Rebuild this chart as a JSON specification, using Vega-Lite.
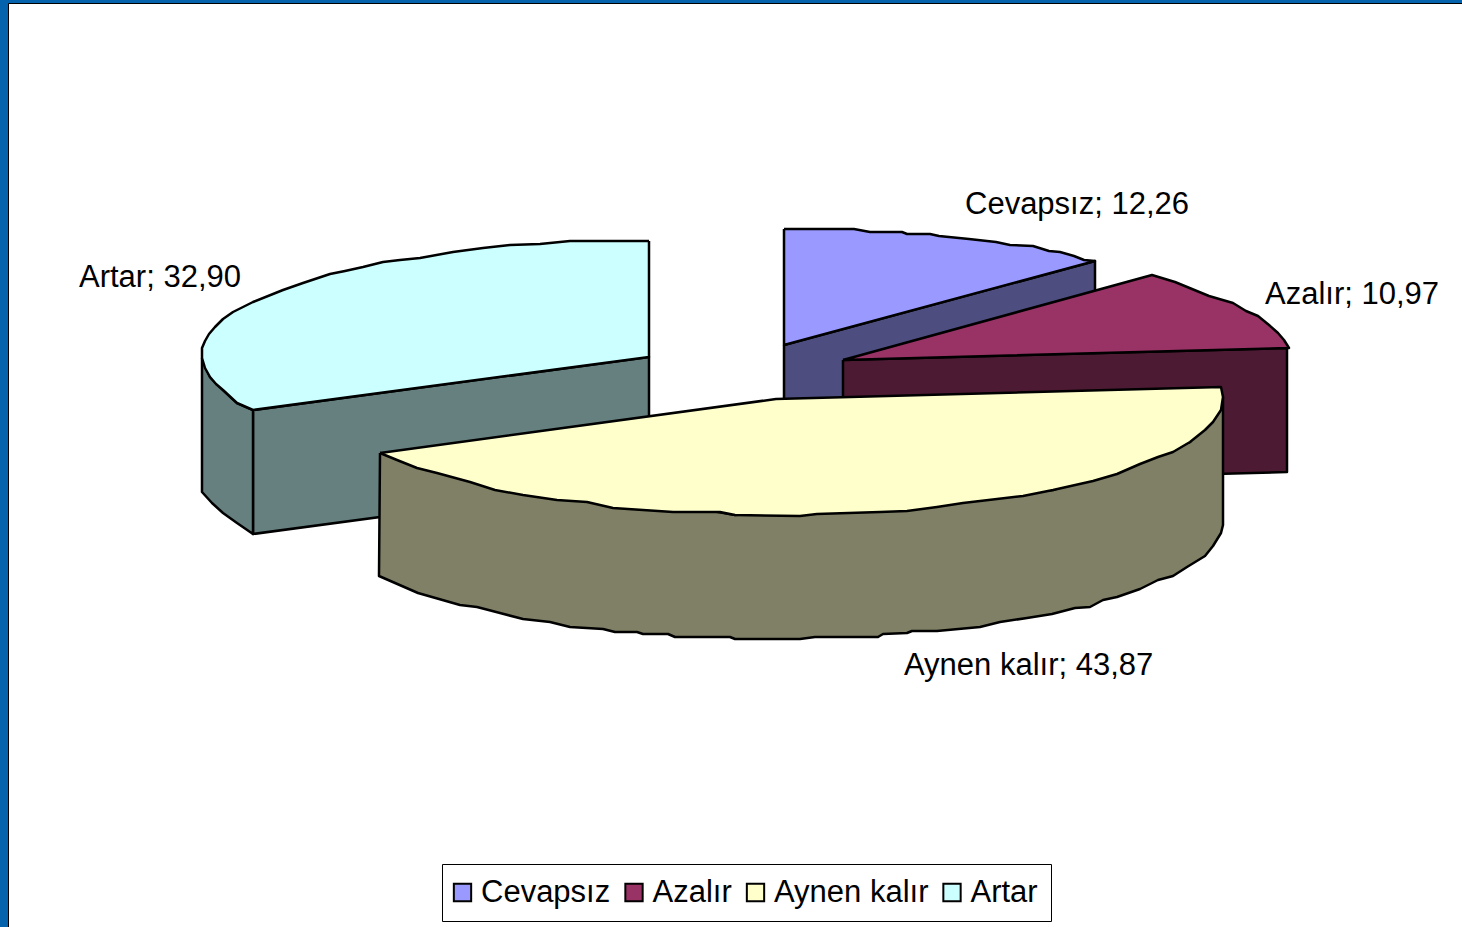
{"$schema":"https://vega.github.io/schema/vega-lite/v6.json","width":1462,"height":927,"autosize":{"type":"fit","contains":"padding"},"padding":{"left":8,"top":3,"right":0,"bottom":0},"background":"#0563AE","view":{"fill":"#ffffff","stroke":"#000000","strokeWidth":1},"config":{"font":"Liberation Sans"},
"datasets":{"labels":[{"slice":"Cevapsız","share":12.26,"label":"Cevapsız; 12,26","x":965,"y":214},{"slice":"Azalır","share":10.97,"label":"Azalır; 10,97","x":1265,"y":304},{"slice":"Aynen kalır","share":43.87,"label":"Aynen kalır; 43,87","x":904,"y":675},{"slice":"Artar","share":32.90,"label":"Artar; 32,90","x":79,"y":287}],
"faces":[
{"p":"a1","f":"Cevapsız yan","s":1,"x":784,"y":345},{"p":"a1","f":"Cevapsız yan","s":2,"x":1095,"y":261},{"p":"a1","f":"Cevapsız yan","s":3,"x":1095,"y":384},{"p":"a1","f":"Cevapsız yan","s":4,"x":784,"y":468},{"p":"a1","f":"Cevapsız yan","s":5,"x":784,"y":345},
{"p":"a2","f":"Cevapsız","s":1,"x":784,"y":229},{"p":"a2","f":"Cevapsız","s":2,"x":854,"y":229},{"p":"a2","f":"Cevapsız","s":3,"x":870,"y":232},{"p":"a2","f":"Cevapsız","s":4,"x":902,"y":232},{"p":"a2","f":"Cevapsız","s":5,"x":907,"y":234},{"p":"a2","f":"Cevapsız","s":6,"x":930,"y":234},{"p":"a2","f":"Cevapsız","s":7,"x":939,"y":236},{"p":"a2","f":"Cevapsız","s":8,"x":969,"y":239},{"p":"a2","f":"Cevapsız","s":9,"x":996,"y":242},{"p":"a2","f":"Cevapsız","s":10,"x":1010,"y":245},{"p":"a2","f":"Cevapsız","s":11,"x":1033,"y":246},{"p":"a2","f":"Cevapsız","s":12,"x":1049,"y":251},{"p":"a2","f":"Cevapsız","s":13,"x":1060,"y":252},{"p":"a2","f":"Cevapsız","s":14,"x":1074,"y":256},{"p":"a2","f":"Cevapsız","s":15,"x":1084,"y":260},{"p":"a2","f":"Cevapsız","s":16,"x":1095,"y":261},{"p":"a2","f":"Cevapsız","s":17,"x":784,"y":345},{"p":"a2","f":"Cevapsız","s":18,"x":784,"y":229},
{"p":"b1","f":"Azalır yan","s":1,"x":843,"y":360},{"p":"b1","f":"Azalır yan","s":2,"x":1287,"y":348},{"p":"b1","f":"Azalır yan","s":3,"x":1287,"y":472},{"p":"b1","f":"Azalır yan","s":4,"x":843,"y":484},{"p":"b1","f":"Azalır yan","s":5,"x":843,"y":360},
{"p":"b2","f":"Azalır","s":1,"x":843,"y":360},{"p":"b2","f":"Azalır","s":2,"x":1152,"y":275},{"p":"b2","f":"Azalır","s":3,"x":1175,"y":282},{"p":"b2","f":"Azalır","s":4,"x":1192,"y":289},{"p":"b2","f":"Azalır","s":5,"x":1209,"y":296},{"p":"b2","f":"Azalır","s":6,"x":1233,"y":303},{"p":"b2","f":"Azalır","s":7,"x":1246,"y":311},{"p":"b2","f":"Azalır","s":8,"x":1258,"y":316},{"p":"b2","f":"Azalır","s":9,"x":1269,"y":325},{"p":"b2","f":"Azalır","s":10,"x":1278,"y":333},{"p":"b2","f":"Azalır","s":11,"x":1284,"y":340},{"p":"b2","f":"Azalır","s":12,"x":1289,"y":348},{"p":"b2","f":"Azalır","s":13,"x":843,"y":360},
{"p":"c1","f":"Artar yan","s":1,"x":253,"y":410},{"p":"c1","f":"Artar yan","s":2,"x":649,"y":357},{"p":"c1","f":"Artar yan","s":3,"x":649,"y":481},{"p":"c1","f":"Artar yan","s":4,"x":253,"y":534},{"p":"c1","f":"Artar yan","s":5,"x":253,"y":410},
{"p":"c2","f":"Artar yan","s":1,"x":202,"y":358},{"p":"c2","f":"Artar yan","s":2,"x":210,"y":377},{"p":"c2","f":"Artar yan","s":3,"x":223,"y":390},{"p":"c2","f":"Artar yan","s":4,"x":237,"y":403},{"p":"c2","f":"Artar yan","s":5,"x":253,"y":410},{"p":"c2","f":"Artar yan","s":6,"x":253,"y":534},{"p":"c2","f":"Artar yan","s":7,"x":237,"y":523},{"p":"c2","f":"Artar yan","s":8,"x":223,"y":513},{"p":"c2","f":"Artar yan","s":9,"x":212,"y":503},{"p":"c2","f":"Artar yan","s":10,"x":202,"y":492},{"p":"c2","f":"Artar yan","s":11,"x":202,"y":358},
{"p":"c3","f":"Artar","s":1,"x":649,"y":241},{"p":"c3","f":"Artar","s":2,"x":570,"y":241},{"p":"c3","f":"Artar","s":3,"x":540,"y":244},{"p":"c3","f":"Artar","s":4,"x":510,"y":245},{"p":"c3","f":"Artar","s":5,"x":483,"y":248},{"p":"c3","f":"Artar","s":6,"x":453,"y":252},{"p":"c3","f":"Artar","s":7,"x":420,"y":258},{"p":"c3","f":"Artar","s":8,"x":400,"y":260},{"p":"c3","f":"Artar","s":9,"x":383,"y":262},{"p":"c3","f":"Artar","s":10,"x":363,"y":267},{"p":"c3","f":"Artar","s":11,"x":345,"y":271},{"p":"c3","f":"Artar","s":12,"x":330,"y":274},{"p":"c3","f":"Artar","s":13,"x":303,"y":283},{"p":"c3","f":"Artar","s":14,"x":283,"y":290},{"p":"c3","f":"Artar","s":15,"x":253,"y":302},{"p":"c3","f":"Artar","s":16,"x":233,"y":312},{"p":"c3","f":"Artar","s":17,"x":223,"y":319},{"p":"c3","f":"Artar","s":18,"x":215,"y":327},{"p":"c3","f":"Artar","s":19,"x":209,"y":334},{"p":"c3","f":"Artar","s":20,"x":205,"y":341},{"p":"c3","f":"Artar","s":21,"x":202,"y":348},{"p":"c3","f":"Artar","s":22,"x":202,"y":358},{"p":"c3","f":"Artar","s":23,"x":205,"y":368},{"p":"c3","f":"Artar","s":24,"x":210,"y":377},{"p":"c3","f":"Artar","s":25,"x":216,"y":384},{"p":"c3","f":"Artar","s":26,"x":223,"y":390},{"p":"c3","f":"Artar","s":27,"x":237,"y":403},{"p":"c3","f":"Artar","s":28,"x":253,"y":410},{"p":"c3","f":"Artar","s":29,"x":649,"y":357},{"p":"c3","f":"Artar","s":30,"x":649,"y":241},
{"p":"d1","f":"Aynen kalır yan","s":1,"x":380,"y":453},{"p":"d1","f":"Aynen kalır yan","s":2,"x":379,"y":576},{"p":"d1","f":"Aynen kalır yan","s":3,"x":418,"y":593},{"p":"d1","f":"Aynen kalır yan","s":4,"x":460,"y":605},{"p":"d1","f":"Aynen kalır yan","s":5,"x":477,"y":607},{"p":"d1","f":"Aynen kalır yan","s":6,"x":500,"y":613},{"p":"d1","f":"Aynen kalır yan","s":7,"x":523,"y":619},{"p":"d1","f":"Aynen kalır yan","s":8,"x":550,"y":622},{"p":"d1","f":"Aynen kalır yan","s":9,"x":570,"y":627},{"p":"d1","f":"Aynen kalır yan","s":10,"x":603,"y":629},{"p":"d1","f":"Aynen kalır yan","s":11,"x":615,"y":632},{"p":"d1","f":"Aynen kalır yan","s":12,"x":637,"y":632},{"p":"d1","f":"Aynen kalır yan","s":13,"x":643,"y":634},{"p":"d1","f":"Aynen kalır yan","s":14,"x":668,"y":634},{"p":"d1","f":"Aynen kalır yan","s":15,"x":675,"y":637},{"p":"d1","f":"Aynen kalır yan","s":16,"x":730,"y":637},{"p":"d1","f":"Aynen kalır yan","s":17,"x":735,"y":639},{"p":"d1","f":"Aynen kalır yan","s":18,"x":800,"y":639},{"p":"d1","f":"Aynen kalır yan","s":19,"x":815,"y":637},{"p":"d1","f":"Aynen kalır yan","s":20,"x":878,"y":637},{"p":"d1","f":"Aynen kalır yan","s":21,"x":883,"y":634},{"p":"d1","f":"Aynen kalır yan","s":22,"x":907,"y":633},{"p":"d1","f":"Aynen kalır yan","s":23,"x":912,"y":631},{"p":"d1","f":"Aynen kalır yan","s":24,"x":937,"y":631},{"p":"d1","f":"Aynen kalır yan","s":25,"x":980,"y":627},{"p":"d1","f":"Aynen kalır yan","s":26,"x":1000,"y":622},{"p":"d1","f":"Aynen kalır yan","s":27,"x":1027,"y":618},{"p":"d1","f":"Aynen kalır yan","s":28,"x":1052,"y":614},{"p":"d1","f":"Aynen kalır yan","s":29,"x":1075,"y":608},{"p":"d1","f":"Aynen kalır yan","s":30,"x":1090,"y":607},{"p":"d1","f":"Aynen kalır yan","s":31,"x":1103,"y":600},{"p":"d1","f":"Aynen kalır yan","s":32,"x":1117,"y":597},{"p":"d1","f":"Aynen kalır yan","s":33,"x":1140,"y":589},{"p":"d1","f":"Aynen kalır yan","s":34,"x":1158,"y":580},{"p":"d1","f":"Aynen kalır yan","s":35,"x":1173,"y":576},{"p":"d1","f":"Aynen kalır yan","s":36,"x":1187,"y":567},{"p":"d1","f":"Aynen kalır yan","s":37,"x":1205,"y":556},{"p":"d1","f":"Aynen kalır yan","s":38,"x":1213,"y":546},{"p":"d1","f":"Aynen kalır yan","s":39,"x":1221,"y":533},{"p":"d1","f":"Aynen kalır yan","s":40,"x":1223,"y":525},{"p":"d1","f":"Aynen kalır yan","s":41,"x":1223,"y":397},{"p":"d1","f":"Aynen kalır yan","s":42,"x":1190,"y":442},{"p":"d1","f":"Aynen kalır yan","s":43,"x":1053,"y":490},{"p":"d1","f":"Aynen kalır yan","s":44,"x":735,"y":515},{"p":"d1","f":"Aynen kalır yan","s":45,"x":380,"y":453},
{"p":"d2","f":"Aynen kalır","s":1,"x":380,"y":453},{"p":"d2","f":"Aynen kalır","s":2,"x":776,"y":399},{"p":"d2","f":"Aynen kalır","s":3,"x":1221,"y":387},{"p":"d2","f":"Aynen kalır","s":4,"x":1223,"y":397},{"p":"d2","f":"Aynen kalır","s":5,"x":1221,"y":410},{"p":"d2","f":"Aynen kalır","s":6,"x":1213,"y":422},{"p":"d2","f":"Aynen kalır","s":7,"x":1205,"y":430},{"p":"d2","f":"Aynen kalır","s":8,"x":1190,"y":442},{"p":"d2","f":"Aynen kalır","s":9,"x":1173,"y":452},{"p":"d2","f":"Aynen kalır","s":10,"x":1158,"y":457},{"p":"d2","f":"Aynen kalır","s":11,"x":1140,"y":464},{"p":"d2","f":"Aynen kalır","s":12,"x":1117,"y":474},{"p":"d2","f":"Aynen kalır","s":13,"x":1093,"y":481},{"p":"d2","f":"Aynen kalır","s":14,"x":1053,"y":490},{"p":"d2","f":"Aynen kalır","s":15,"x":1023,"y":496},{"p":"d2","f":"Aynen kalır","s":16,"x":997,"y":499},{"p":"d2","f":"Aynen kalır","s":17,"x":963,"y":503},{"p":"d2","f":"Aynen kalır","s":18,"x":937,"y":507},{"p":"d2","f":"Aynen kalır","s":19,"x":907,"y":511},{"p":"d2","f":"Aynen kalır","s":20,"x":880,"y":512},{"p":"d2","f":"Aynen kalır","s":21,"x":817,"y":514},{"p":"d2","f":"Aynen kalır","s":22,"x":800,"y":516},{"p":"d2","f":"Aynen kalır","s":23,"x":735,"y":515},{"p":"d2","f":"Aynen kalır","s":24,"x":720,"y":512},{"p":"d2","f":"Aynen kalır","s":25,"x":673,"y":512},{"p":"d2","f":"Aynen kalır","s":26,"x":643,"y":510},{"p":"d2","f":"Aynen kalır","s":27,"x":613,"y":508},{"p":"d2","f":"Aynen kalır","s":28,"x":587,"y":502},{"p":"d2","f":"Aynen kalır","s":29,"x":557,"y":500},{"p":"d2","f":"Aynen kalır","s":30,"x":523,"y":495},{"p":"d2","f":"Aynen kalır","s":31,"x":495,"y":490},{"p":"d2","f":"Aynen kalır","s":32,"x":470,"y":482},{"p":"d2","f":"Aynen kalır","s":33,"x":437,"y":473},{"p":"d2","f":"Aynen kalır","s":34,"x":417,"y":468},{"p":"d2","f":"Aynen kalır","s":35,"x":397,"y":460},{"p":"d2","f":"Aynen kalır","s":36,"x":380,"y":453}
]},
"layer":[
{"data":{"name":"faces"},"mark":{"type":"line","stroke":"#000000","strokeWidth":2.5,"strokeJoin":"round","clip":true},
"encoding":{"x":{"field":"x","type":"quantitative","scale":{"domain":[8,1462],"nice":false,"zero":false},"axis":null},"y":{"field":"y","type":"quantitative","scale":{"domain":[927,3],"nice":false,"zero":false},"axis":null},"order":{"field":"s","type":"quantitative"},"detail":{"field":"p"},
"fill":{"field":"f","type":"nominal","scale":{"domain":["Cevapsız","Azalır","Aynen kalır","Artar","Cevapsız yan","Azalır yan","Aynen kalır yan","Artar yan"],"range":["#9999FF","#993366","#FFFFCC","#CCFFFF","#4D4D80","#4D1A33","#808066","#668080"]},
"legend":{"values":["Cevapsız","Azalır","Aynen kalır","Artar"],"title":null,"orient":"none","legendX":434,"legendY":861,"direction":"horizontal","columns":4,"gridAlign":"none","columnPadding":9.5,"padding":13,"strokeColor":"#000000","fillColor":"#ffffff","symbolType":"square","symbolSize":300,"symbolStrokeColor":"#000000","symbolStrokeWidth":2,"symbolOpacity":1,"symbolOffset":-8,"labelFont":"Liberation Sans","labelFontSize":31,"labelColor":"#000000","labelOffset":3,"labelLimit":400}}}},
{"data":{"name":"labels"},"mark":{"type":"text","align":"left","baseline":"alphabetic","font":"Liberation Sans","fontSize":31,"color":"#000000"},
"encoding":{"x":{"field":"x","type":"quantitative"},"y":{"field":"y","type":"quantitative"},"text":{"field":"label"}}}
]}
